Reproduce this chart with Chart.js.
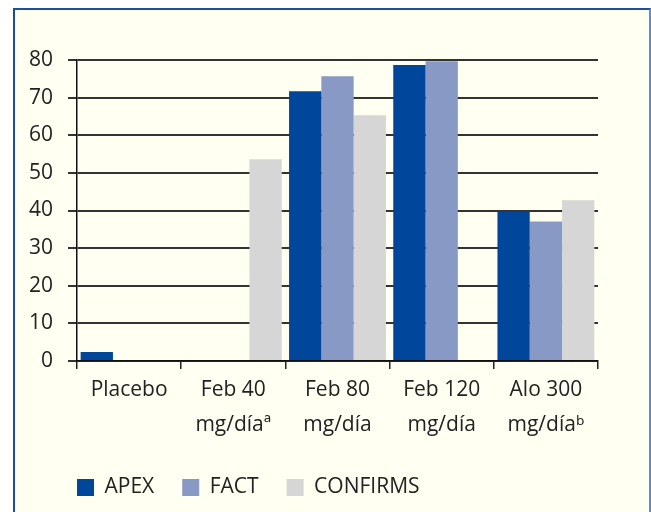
<!DOCTYPE html>
<html>
<head>
<meta charset="utf-8">
<script src="https://cdn.jsdelivr.net/npm/chart.js@4/dist/chart.umd.min.js"></script>
<style>
html,body{margin:0;padding:0;background:#fff;width:651px;height:512px;overflow:hidden;}
#frame{position:absolute;left:13px;top:8px;width:634px;height:520px;background:#fffff2;
 border-top:2px solid #1d4f98;border-left:2px solid #1d4f98;border-right:2px solid #5b8fcc;}
#wrap{position:absolute;left:0;top:0;width:651px;height:512px;}
</style>
</head>
<body>
<div id="frame"></div>
<div id="wrap"><canvas id="c" width="651" height="512"></canvas></div>
<script>
const categories = ['Placebo', ['Feb 40','mg/día\u00aa'], ['Feb 80','mg/día'], ['Feb 120','mg/día'], ['Alo 300','mg/día\u1d47']];
const apex = [2.4, null, 71.7, 78.7, 39.7];
const fact = [null, null, 75.7, 79.7, 37.1];
const confirms = [null, 53.6, 65.3, null, 42.7];
const yTicks = [0,10,20,30,40,50,60,70,80];

const FONT = '"Open Sans", "Noto Sans", sans-serif';

const legendShift = {
  id:'legendShift',
  afterLayout(chart){
    const lg = chart.legend;
    if (lg) { const d = 49; lg.left += d; lg.right += d; }
  }
};

new Chart(document.getElementById('c'), {
  type: 'bar',
  data: {
    labels: categories,
    datasets: [
      {label:'APEX', data: apex, backgroundColor:'#00479b'},
      {label:'FACT', data: fact, backgroundColor:'#8899c5'},
      {label:'CONFIRMS', data: confirms, backgroundColor:'#d6d6d6'}
    ]
  },
  plugins:[legendShift],
  options: {
    responsive:false,
    animation:false,
    devicePixelRatio:1,
    datasets:{bar:{categoryPercentage:0.93, barPercentage:1.0}},
    layout:{padding:{left:0, right:53, top:60, bottom:4}},
    plugins:{
      tooltip:{enabled:false},
      legend:{
        position:'bottom', align:'start',
        labels:{boxWidth:17, boxHeight:17, padding:28, color:'#222',
          font:{family:FONT, size:21}}
      }
    },
    scales:{
      x:{
        grid:{display:true, drawOnChartArea:false, drawTicks:true, tickLength:8, color:'#222', lineWidth:1.5, offset:true},
        border:{display:true, color:'#111', width:1.5},
        ticks:{color:'#222', padding:3.5, maxRotation:0, autoSkip:false,
          font:{family:FONT, size:21, lineHeight:1.67}},
        afterFit:(s)=>{ s.height = 88; }
      },
      y:{
        min:0, max:80,
        afterBuildTicks:(s)=>{ s.ticks = yTicks.map(v=>({value:v})); },
        grid:{color:'#333', lineWidth:2, tickLength:9, drawTicks:true},
        border:{display:true, color:'#111', width:1.5},
        ticks:{color:'#222', padding:15, font:{family:FONT, size:21}},
        afterFit:(s)=>{ s.width = 77; }
      }
    }
  }
});
</script>
</body>
</html>
